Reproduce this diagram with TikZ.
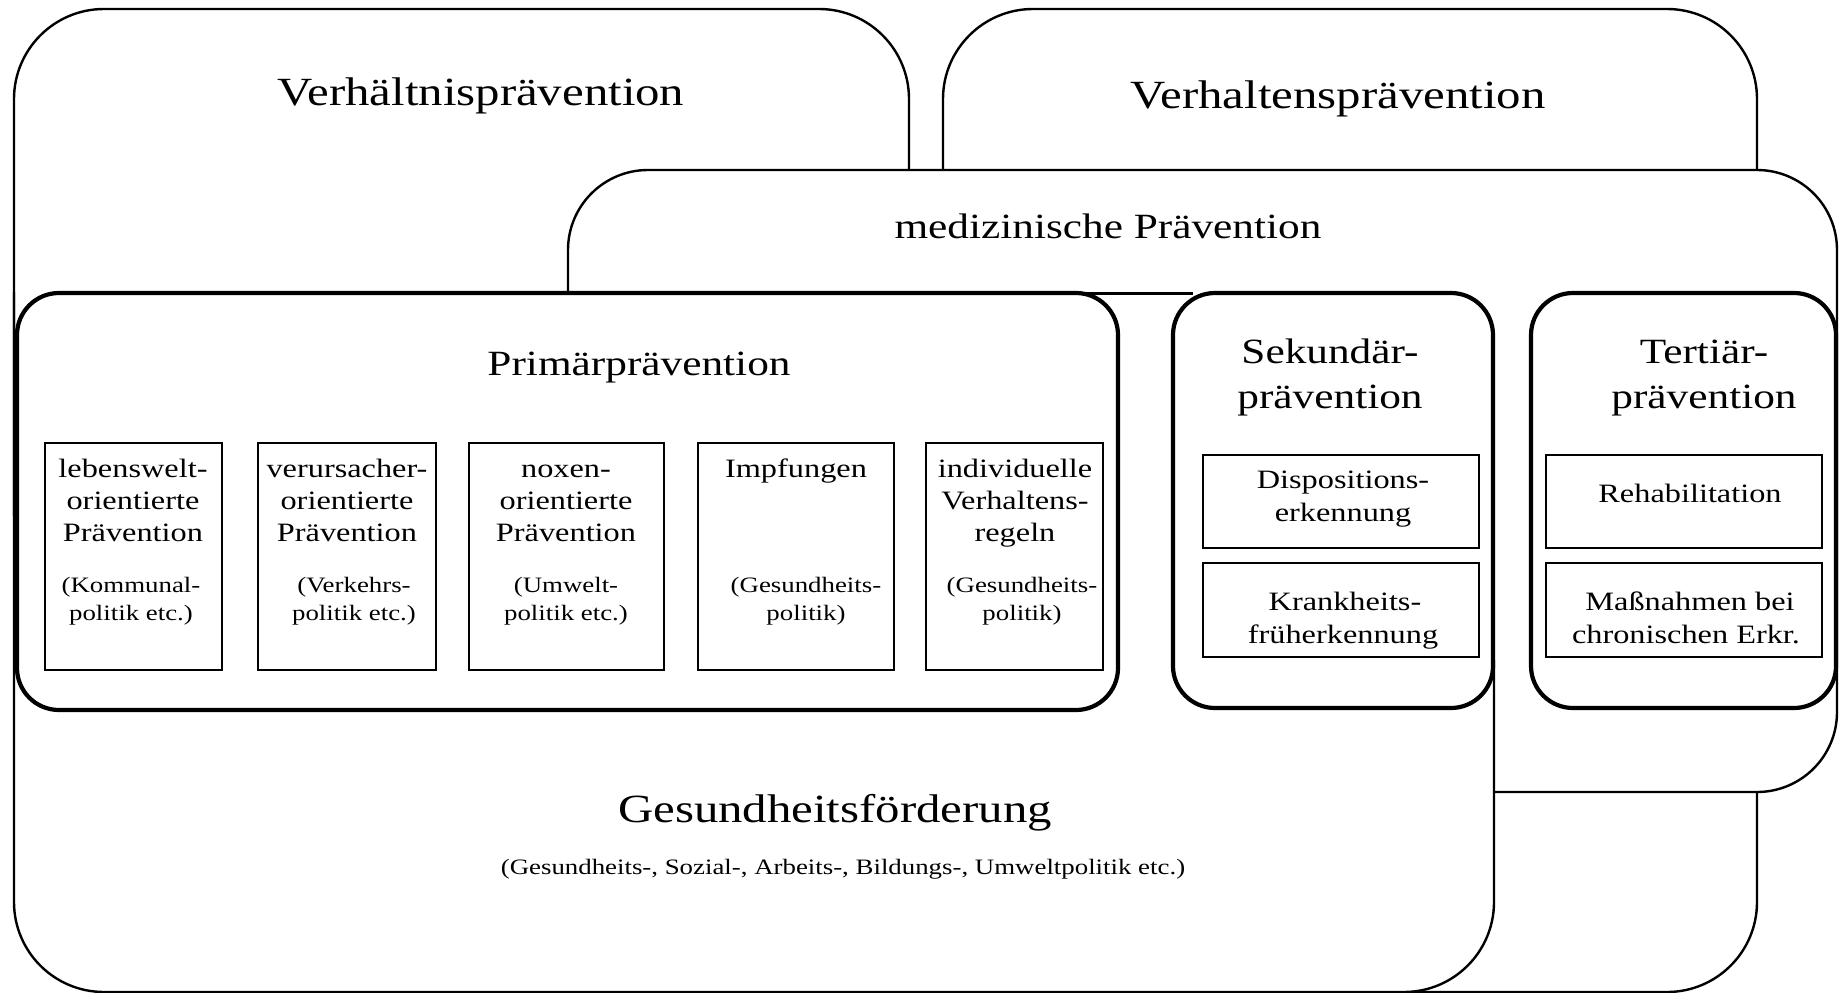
\documentclass[tikz,border=0pt]{standalone}
\usepackage{fontspec}
\setmainfont{Liberation Serif}[FakeStretch=1.22]
\begin{document}
\begin{tikzpicture}[x=1pt,y=-1pt,
  bigshape/.style={draw, line width=2.4pt, fill=white, rounded corners=90pt},
  grpbox/.style={draw, line width=4.2pt, fill=white, rounded corners=42pt, rectangle, inner sep=0pt, outer sep=0pt, anchor=north west},
  itembox/.style={draw, line width=2.6pt, fill=white, rectangle, inner sep=0pt, outer sep=0pt, anchor=north west},
  titleL/.style={font=\fontsize{40}{48}\selectfont, inner sep=0pt, anchor=base},
  titleM/.style={font=\fontsize{35.5}{42}\selectfont, inner sep=0pt, anchor=base},
  itemtxt/.style={font=\fontsize{26.5}{30}\selectfont, inner sep=0pt, anchor=base},
  smalltxt/.style={font=\fontsize{22}{26}\selectfont, inner sep=0pt, anchor=base},
  joinline/.style={line width=3pt}
]
\useasboundingbox (0,0) rectangle (1840,993);

% large background shapes
\draw[bigshape] (14,9) rectangle (909,600);
\draw[bigshape] (943,9) rectangle (1757,992);
\draw[bigshape, rounded corners=80pt] (568,170) rectangle (1837,792);
\fill[white, rounded corners=90pt] (14,292) rectangle (1494,992);
\draw[line width=2.4pt, rounded corners=90pt] (14,292) -- (14,992) -- (1494,992) -- (1494,660);

% group boxes
\node[grpbox, minimum width=1101pt, minimum height=417pt] (prim) at (17,293) {};
\node[grpbox, minimum width=320pt, minimum height=415pt] (sek) at (1173,293) {};
\node[grpbox, minimum width=305pt, minimum height=415pt] (ter) at (1531,293) {};
\draw[joinline] ([xshift=-50pt]prim.north east) -- ([xshift=20pt]sek.north west);

% titles
\node[titleL] (tVhn) at (481,105) {Verhältnisprävention};
\node[titleL] (tVhl) at (1338,108) {Verhaltensprävention};
\node[titleM] (tMed) at (1108,238) {medizinische Prävention};
\node[titleM] (tPrim) at (639,375) {Primärprävention};
\node[titleM] (tSek1) at (1330,363) {Sekundär-};
\node[titleM] (tSek2) at (1330,408) {prävention};
\node[titleM] (tTer1) at (1704,363) {Tertiär-};
\node[titleM] (tTer2) at (1704,408) {prävention};
\node[titleL] (tGes) at (835,822) {Gesundheitsförderung};
\node[smalltxt] (tGesSub) at (843,874) {(Gesundheits-, Sozial-, Arbeits-, Bildungs-, Umweltpolitik etc.)};

% primary prevention item boxes
\node[itembox, minimum width=177pt, minimum height=227pt] (b1) at (45,443) {};
\node[itembox, minimum width=178pt, minimum height=227pt] (b2) at (258,443) {};
\node[itembox, minimum width=195pt, minimum height=227pt] (b3) at (469,443) {};
\node[itembox, minimum width=196pt, minimum height=227pt] (b4) at (698,443) {};
\node[itembox, minimum width=177pt, minimum height=227pt] (b5) at (926,443) {};

\node[itemtxt] (b1a) at (133,477) {lebenswelt-};
\node[itemtxt] (b1b) at (133,509) {orientierte};
\node[itemtxt] (b1c) at (133,541) {Prävention};
\node[smalltxt] (b1d) at (131,592) {(Kommunal-};
\node[smalltxt] (b1e) at (131,620) {politik etc.)};

\node[itemtxt] (b2a) at (347,477) {verursacher-};
\node[itemtxt] (b2b) at (347,509) {orientierte};
\node[itemtxt] (b2c) at (347,541) {Prävention};
\node[smalltxt] (b2d) at (354,592) {(Verkehrs-};
\node[smalltxt] (b2e) at (354,620) {politik etc.)};

\node[itemtxt] (b3a) at (566,477) {noxen-};
\node[itemtxt] (b3b) at (566,509) {orientierte};
\node[itemtxt] (b3c) at (566,541) {Prävention};
\node[smalltxt] (b3d) at (566,592) {(Umwelt-};
\node[smalltxt] (b3e) at (566,620) {politik etc.)};

\node[itemtxt] (b4a) at (796,477) {Impfungen};
\node[smalltxt] (b4d) at (806,592) {(Gesundheits-};
\node[smalltxt] (b4e) at (806,620) {politik)};

\node[itemtxt] (b5a) at (1015,477) {individuelle};
\node[itemtxt] (b5b) at (1015,509) {Verhaltens-};
\node[itemtxt] (b5c) at (1015,541) {regeln};
\node[smalltxt] (b5d) at (1022,592) {(Gesundheits-};
\node[smalltxt] (b5e) at (1022,620) {politik)};

% secondary prevention items
\node[itembox, minimum width=276pt, minimum height=93pt] (s1) at (1203,455) {};
\node[itembox, minimum width=276pt, minimum height=94pt] (s2) at (1203,563) {};
\node[itemtxt] (s1a) at (1343,488) {Dispositions-};
\node[itemtxt] (s1b) at (1343,521) {erkennung};
\node[itemtxt] (s2a) at (1345,610) {Krankheits-};
\node[itemtxt] (s2b) at (1343,643) {früherkennung};

% tertiary prevention items
\node[itembox, minimum width=276pt, minimum height=93pt] (r1) at (1546,455) {};
\node[itembox, minimum width=276pt, minimum height=94pt] (r2) at (1546,563) {};
\node[itemtxt] (r1a) at (1690,502) {Rehabilitation};
\node[itemtxt] (r2a) at (1690,610) {Maßnahmen bei};
\node[itemtxt] (r2b) at (1686,643) {chronischen Erkr.};
\end{tikzpicture}
\end{document}
